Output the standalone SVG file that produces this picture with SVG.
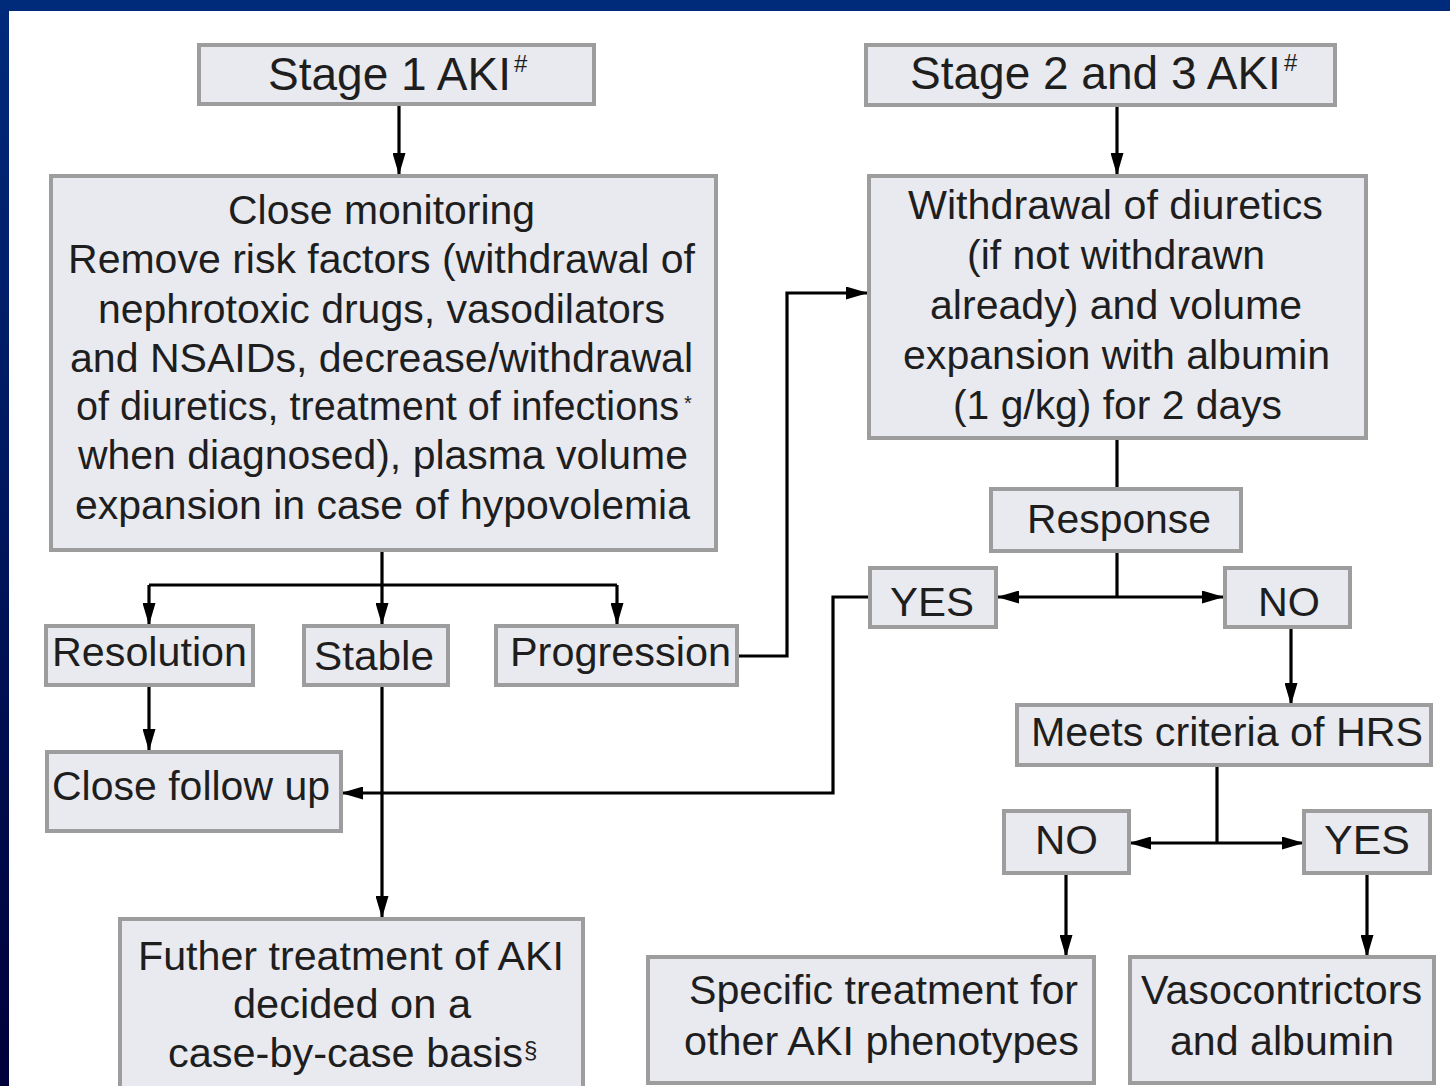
<svg xmlns="http://www.w3.org/2000/svg" width="1450" height="1086" viewBox="0 0 1450 1086">
<defs>
<linearGradient id="bg" x1="0" y1="0" x2="0" y2="1">
<stop offset="0" stop-color="#002a7b"/>
<stop offset="1" stop-color="#00003a"/>
</linearGradient>
<marker id="ah" markerUnits="userSpaceOnUse" markerWidth="22" markerHeight="13" refX="21" refY="6.5" orient="auto">
<path d="M0,0 L22,6.5 L0,13 Z" fill="#000"/>
</marker>
<style>
.box{fill:#e9eaef;stroke:#9d9d9d;stroke-width:4}
.t{font-family:"Liberation Sans",Arial,sans-serif;font-size:40px;fill:#1e1e1e}
.h{font-family:"Liberation Sans",Arial,sans-serif;font-size:46px;fill:#1e1e1e}
.s{font-family:"Liberation Sans",Arial,sans-serif;fill:#1e1e1e}
.c{fill:none;stroke:#000;stroke-width:3.2}
.a{marker-end:url(#ah)}
</style>
</defs>
<rect x="0" y="0" width="1450" height="1086" fill="url(#bg)"/>
<rect x="9" y="11" width="1441" height="1075" fill="#ffffff"/>

<g id="connectors">
<path class="c a" d="M399,106 V174"/>
<path class="c a" d="M1117,107 V174"/>
<path class="c a" d="M382,551 V624"/>
<path class="c" d="M149,585 H617"/>
<path class="c a" d="M149,585 V624"/>
<path class="c a" d="M617,585 V624"/>
<path class="c a" d="M149,687 V750"/>
<path class="c a" d="M382,687 V917"/>
<path class="c a" d="M739,656 H787 V293 H867"/>
<path class="c" d="M1117,439 V489"/>
<path class="c" d="M1117,552 V597"/>
<path class="c a" d="M1117,597 H998"/>
<path class="c a" d="M1117,597 H1223"/>
<path class="c a" d="M870,597 H833 V793 H342"/>
<path class="c a" d="M1291,628 V704"/>
<path class="c" d="M1217,767 V843"/>
<path class="c a" d="M1217,843 H1130"/>
<path class="c a" d="M1217,843 H1303"/>
<path class="c a" d="M1066,874 V956"/>
<path class="c a" d="M1367,874 V956"/>
</g>

<g id="stage1">
<rect class="box" x="199" y="45" width="395" height="59"/>
<text class="h" x="268" y="90">Stage 1 AKI</text>
<text class="s" x="514" y="72" font-size="24">#</text>
</g>

<g id="stage23">
<rect class="box" x="866" y="45" width="469" height="60"/>
<text class="h" x="910" y="89">Stage 2 and 3 AKI</text>
<text class="s" x="1284" y="71" font-size="24">#</text>
</g>

<g id="monitoring">
<rect class="box" x="51" y="176" width="665" height="374"/>
<text class="t" x="228" y="224" textLength="307" lengthAdjust="spacingAndGlyphs">Close monitoring</text>
<text class="t" x="68" y="273" textLength="627" lengthAdjust="spacingAndGlyphs">Remove risk factors (withdrawal of</text>
<text class="t" x="98" y="323" textLength="567" lengthAdjust="spacingAndGlyphs">nephrotoxic drugs, vasodilators</text>
<text class="t" x="70" y="372" textLength="623" lengthAdjust="spacingAndGlyphs">and NSAIDs, decrease/withdrawal</text>
<text class="t" x="76" y="420" textLength="603" lengthAdjust="spacingAndGlyphs">of diuretics, treatment of infections</text>
<text class="s" x="684" y="410" font-size="20">*</text>
<text class="t" x="78" y="469" textLength="610" lengthAdjust="spacingAndGlyphs">when diagnosed), plasma volume</text>
<text class="t" x="75" y="519" textLength="615" lengthAdjust="spacingAndGlyphs">expansion in case of hypovolemia</text>
</g>

<g id="withdrawal">
<rect class="box" x="869" y="176" width="497" height="262"/>
<text class="t" x="908" y="219" textLength="415" lengthAdjust="spacingAndGlyphs">Withdrawal of diuretics</text>
<text class="t" x="967" y="269" textLength="298" lengthAdjust="spacingAndGlyphs">(if not withdrawn</text>
<text class="t" x="930" y="319" textLength="372" lengthAdjust="spacingAndGlyphs">already) and volume</text>
<text class="t" x="903" y="369" textLength="427" lengthAdjust="spacingAndGlyphs">expansion with albumin</text>
<text class="t" x="953" y="419" textLength="329" lengthAdjust="spacingAndGlyphs">(1 g/kg) for 2 days</text>
</g>

<g id="response">
<rect class="box" x="991" y="489" width="250" height="62"/>
<text class="t" x="1027" y="533" textLength="184" lengthAdjust="spacingAndGlyphs">Response</text>
</g>

<g id="yes1">
<rect class="box" x="870" y="568" width="126" height="59"/>
<text class="t" x="890" y="616" textLength="84" lengthAdjust="spacingAndGlyphs">YES</text>
</g>

<g id="no1">
<rect class="box" x="1225" y="568" width="125" height="59"/>
<text class="t" x="1258" y="616" textLength="62" lengthAdjust="spacingAndGlyphs">NO</text>
</g>

<g id="resolution">
<rect class="box" x="46" y="626" width="207" height="59"/>
<text class="t" x="52" y="666" textLength="195" lengthAdjust="spacingAndGlyphs">Resolution</text>
</g>

<g id="stable">
<rect class="box" x="304" y="626" width="144" height="59"/>
<text class="t" x="314" y="670" textLength="120" lengthAdjust="spacingAndGlyphs">Stable</text>
</g>

<g id="progression">
<rect class="box" x="496" y="626" width="241" height="59"/>
<text class="t" x="510" y="666" textLength="221" lengthAdjust="spacingAndGlyphs">Progression</text>
</g>

<g id="followup">
<rect class="box" x="47" y="752" width="294" height="79"/>
<text class="t" x="52" y="800" textLength="278" lengthAdjust="spacingAndGlyphs">Close follow up</text>
</g>

<g id="meets">
<rect class="box" x="1017" y="705" width="414" height="60"/>
<text class="t" x="1031" y="746" textLength="392" lengthAdjust="spacingAndGlyphs">Meets criteria of HRS</text>
</g>

<g id="no2">
<rect class="box" x="1004" y="811" width="125" height="62"/>
<text class="t" x="1035" y="854" textLength="63" lengthAdjust="spacingAndGlyphs">NO</text>
</g>

<g id="yes2">
<rect class="box" x="1304" y="811" width="126" height="62"/>
<text class="t" x="1324" y="854" textLength="86" lengthAdjust="spacingAndGlyphs">YES</text>
</g>

<g id="further">
<rect class="box" x="120" y="919" width="463" height="180"/>
<text class="t" x="138" y="970" textLength="426" lengthAdjust="spacingAndGlyphs">Futher treatment of AKI</text>
<text class="t" x="233" y="1018" textLength="238" lengthAdjust="spacingAndGlyphs">decided on a</text>
<text class="t" x="168" y="1067" textLength="355" lengthAdjust="spacingAndGlyphs">case-by-case basis</text>
<text class="s" x="524" y="1058" font-size="24">§</text>
</g>

<g id="specific">
<rect class="box" x="648" y="957" width="446" height="126"/>
<text class="t" x="689" y="1004" textLength="389" lengthAdjust="spacingAndGlyphs">Specific treatment for</text>
<text class="t" x="684" y="1055" textLength="395" lengthAdjust="spacingAndGlyphs">other AKI phenotypes</text>
</g>

<g id="vaso">
<rect class="box" x="1130" y="957" width="304" height="126"/>
<text class="t" x="1141" y="1004" textLength="281" lengthAdjust="spacingAndGlyphs">Vasocontrictors</text>
<text class="t" x="1170" y="1055" textLength="224" lengthAdjust="spacingAndGlyphs">and albumin</text>
</g>
</svg>
